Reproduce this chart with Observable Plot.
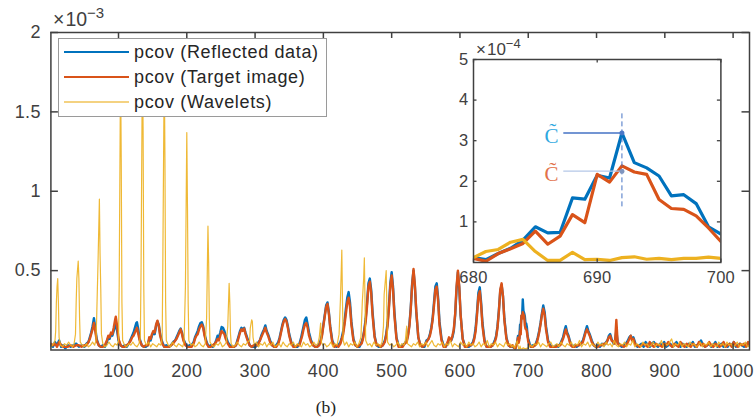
<!DOCTYPE html>
<html><head><meta charset="utf-8">
<script src="https://cdn.jsdelivr.net/npm/d3@7"></script>
<script src="https://cdn.jsdelivr.net/npm/@observablehq/plot@0.6"></script>
<style>
body{margin:0;background:#fff;}
#wrap{position:relative;width:755px;height:419px;overflow:hidden;background:#fff;}
#wrap > *{position:absolute;}
</style></head><body><div id="wrap"></div>
<script>
// ---------- tick labels / categories ----------
const xTicks = [100,200,300,400,500,600,700,800,900,1000];
const yTicks = [0.5,1,1.5,2];
const insetXTicks = [680,690,700];
const insetYTicks = [1,2,3,4,5];
const seriesNames = ["pcov (Reflected data)","pcov (Target image)","pcov (Wavelets)"];
const seriesColors = ["#0072BD","#D95319","#EDB120"];
const captionText = "(b)";

// ---------- inset values (x 1e-4) ----------
const insetX = [680,681,682,683,684,685,686,687,688,689,690,691,692,693,694,695,696,697,698,699,700];
const insetBlue = [0.12,0.07,0.22,0.35,0.55,0.88,0.73,0.74,1.59,1.56,2.15,2.08,3.19,2.46,2.33,2.13,1.64,1.67,1.45,0.88,0.70];
const insetRed = [0.10,0.03,0.22,0.34,0.47,0.77,0.45,0.65,1.18,0.98,2.17,1.98,2.38,2.23,2.17,1.55,1.33,1.31,1.15,0.85,0.52];
const insetYellow = [0.12,0.27,0.32,0.50,0.57,0.27,0.05,0.05,0.25,0.07,0.08,0.05,0.12,0.14,0.08,0.10,0.07,0.10,0.10,0.13,0.10];
// annotation (C~ markers) in inset units
const annoLabels = ["C\u0303","C\u0303"];
const annoY = [3.19, 2.25];
const annoTextColors = ["#2FA8E0","#E2714A"];
const annoLineColors = ["#4472C4","#B4C7E7"];
const annoDotColors = ["#4A78C8","#8095BE"];
const annoX = 692, annoLineStart = 687.3, annoTextX = 686.9;
const dashY = [1.37, 3.71];

// ---------- main values (x 1e-3), before the inset window ----------
const brXA = [
 1,4,7,10,13,16,19,22,26,30,34,38,42,46,50,
 53,56,58,60,62,64,66,68,71,74,77,
 80,83,85,87,89,91,93,95,96,98,100,103,106,109,
 112,115,118,120,122,124,126,127,129,131,134,137,140,
 143,145,147,149,151,153,155,157,159,161,164,167,170,
 174,177,180,183,185,187,189,191,193,195,198,201,204,
 207,210,212,214,216,218,220,222,224,226,229,232,235,
 238,241,243,245,247,249,251,253,255,257,260,263,266,
 269,272,274,276,278,280,282,284,286,289,292,295,298,
 301,303,305,307,309,311,313,315,317,319,322,325,328,
 331,334,336,338,340,342,344,346,348,350,353,356,359,
 362,365,367,369,371,373,375,377,379,382,385,388,
 391,394,396,398,400,402,404,406,408,410,413,416,419,
 422,425,427,429,431,433,435,437,439,441,444,447,450,
 453,456,458,460,462,464,466,468,470,472,475,478,481,
 484,487,490,492,494,496,498,500,502,504,507,510,513,
 516,519,522,524,526,528,530,532,534,536,539,542,545,
 548,551,554,556,558,560,562,564,566,568,570,573,576,579,
 582,584,587,589,591,593,595,597,599,601,604,607,610,
 613,616,619,621,623,625,627,629,631,633,636,639,642,
 645,648,651,653,655,657,659,661,663,665,668,671,674,677];
const blueA = [
 .03,.02,.05,.03,.06,.02,.03,.01,.03,.02,.03,.04,.02,.03,.02,
 .04,.05,.08,.11,.15,.20,.14,.07,.03,.02,.03,
 .02,.05,.08,.07,.10,.09,.12,.15,.17,.12,.06,.03,.02,.03,
 .02,.04,.07,.09,.11,.14,.17,.175,.13,.07,.03,.02,.02,
 .03,.07,.06,.09,.11,.10,.15,.18,.16,.10,.05,.02,.03,
 .02,.03,.05,.06,.08,.10,.12,.135,.11,.07,.04,.02,.03,
 .03,.05,.08,.10,.12,.15,.17,.175,.15,.10,.05,.02,.03,
 .02,.04,.06,.09,.08,.11,.145,.14,.12,.09,.05,.03,.02,
 .02,.03,.06,.09,.12,.14,.13,.14,.11,.07,.03,.02,.02,
 .02,.03,.05,.06,.09,.11,.13,.155,.12,.10,.06,.03,.02,
 .03,.05,.08,.12,.16,.19,.205,.19,.15,.10,.05,.03,.02,
 .02,.04,.07,.11,.15,.19,.205,.16,.11,.06,.03,.02,
 .02,.04,.06,.10,.16,.22,.28,.30,.24,.15,.06,.03,.02,
 .03,.05,.08,.12,.18,.26,.33,.365,.30,.18,.07,.03,.02,
 .02,.05,.08,.13,.20,.30,.42,.45,.38,.24,.09,.03,.02,
 .02,.03,.06,.10,.17,.28,.42,.49,.40,.24,.08,.03,.02,
 .03,.04,.06,.10,.16,.27,.42,.50,.40,.24,.08,.03,.02,
 .02,.06,.07,.10,.14,.20,.30,.40,.42,.33,.18,.07,.03,.02,
 .04,.07,.06,.08,.12,.22,.38,.49,.39,.22,.07,.03,.02,
 .02,.03,.05,.08,.14,.24,.36,.395,.30,.17,.06,.02,.02,
 .02,.03,.06,.09,.15,.25,.37,.41,.34,.20,.08,.03,.02,.02];
const redA = [
 .04,.03,.04,.02,.05,.03,.02,.02,.02,.03,.02,.03,.03,.02,.03,
 .03,.05,.07,.10,.13,.17,.12,.06,.03,.02,.02,
 .03,.06,.09,.08,.11,.10,.14,.19,.21,.15,.07,.03,.02,.02,
 .03,.04,.06,.08,.09,.11,.13,.14,.10,.06,.03,.02,.03,
 .03,.08,.07,.10,.12,.11,.16,.185,.15,.09,.04,.02,.02,
 .02,.03,.04,.06,.07,.09,.11,.13,.10,.06,.03,.02,.02,
 .02,.04,.07,.09,.10,.13,.15,.16,.14,.09,.04,.02,.02,
 .03,.04,.05,.07,.06,.09,.12,.11,.10,.07,.04,.02,.02,
 .02,.03,.05,.08,.11,.13,.12,.135,.10,.06,.03,.02,.03,
 .03,.03,.04,.06,.08,.10,.12,.14,.11,.09,.05,.03,.02,
 .02,.04,.07,.11,.15,.18,.195,.18,.14,.09,.04,.02,.02,
 .03,.03,.06,.09,.13,.16,.17,.14,.09,.05,.03,.02,
 .02,.03,.05,.09,.15,.21,.27,.29,.23,.14,.05,.02,.03,
 .02,.04,.07,.10,.16,.23,.30,.33,.27,.16,.06,.03,.02,
 .03,.04,.07,.12,.18,.28,.40,.43,.36,.22,.08,.03,.03,
 .02,.03,.05,.09,.15,.26,.40,.47,.38,.22,.07,.02,.02,
 .02,.04,.05,.09,.15,.26,.41,.51,.41,.25,.08,.03,.02,
 .03,.05,.07,.09,.13,.19,.28,.38,.40,.31,.16,.06,.02,.02,
 .05,.08,.06,.09,.13,.23,.40,.50,.40,.22,.07,.02,.02,
 .03,.03,.04,.07,.12,.22,.34,.37,.28,.15,.05,.02,.02,
 .02,.03,.05,.08,.14,.24,.38,.42,.34,.19,.07,.03,.02,.03];

// ---------- main values (x 1e-3), after the inset window ----------
const brXB = [
 702,704,707,710,712,714,716,718,720,722,724,726,729,732,735,
 738,741,744,747,749,751,753,755,757,759,762,765,768,
 771,774,777,780,782,784,786,788,790,793,796,799,
 802,805,808,811,814,816,818,820,822,825,827,829,831,834,837,840,843,846,848,850,852,854,857,860,
 863,866,869,872,875,878,881,884,887,890,893,896,899,902,905,908,911,914,917,920,
 923,926,929,932,935,938,941,944,947,950,953,956,959,962,965,968,971,974,977,980,
 983,986,989,992,995,998,1001,1004,1007,1010,1013,1016,1019,1022,1024];
const blueB = [
 .04,.02,.03,.03,.05,.08,.12,.17,.23,.28,.24,.15,.06,.03,.02,
 .02,.03,.02,.04,.06,.08,.12,.15,.11,.09,.04,.02,.03,
 .02,.03,.04,.06,.09,.12,.15,.12,.10,.06,.03,.02,
 .03,.02,.04,.03,.05,.06,.09,.10,.07,.04,.05,.12,.05,.03,.02,.03,.04,.06,.08,.09,.07,.08,.04,.02,
 .03,.04,.02,.05,.03,.02,.04,.05,.03,.02,.04,.03,.05,.02,.03,.04,.02,.03,.05,.03,
 .02,.04,.03,.02,.04,.03,.05,.02,.03,.04,.06,.03,.02,.03,.04,.02,.03,.05,.02,.03,
 .04,.02,.03,.02,.04,.03,.05,.02,.03,.04,.03,.02,.04,.03,.03];
const redB = [
 .03,.02,.02,.03,.04,.07,.11,.16,.22,.26,.22,.13,.05,.02,.02,
 .02,.02,.03,.03,.05,.07,.10,.13,.10,.08,.03,.02,.02,
 .03,.03,.04,.05,.08,.11,.13,.11,.09,.05,.03,.02,
 .02,.03,.03,.04,.04,.06,.08,.09,.06,.05,.04,.19,.04,.03,.03,.02,.03,.05,.07,.09,.06,.07,.03,.03,
 .02,.03,.04,.03,.02,.05,.03,.02,.04,.03,.03,.02,.04,.03,.05,.03,.02,.04,.03,.02,
 .05,.03,.02,.04,.03,.02,.04,.03,.02,.05,.03,.04,.02,.03,.05,.03,.02,.04,.03,.02,
 .03,.05,.02,.03,.04,.02,.05,.03,.02,.04,.03,.04,.02,.05,.03];

// ---------- wavelet series (x, value x 1e-3), outside the inset window ----------
const waveletA = [
 [1,.02],[3,.03],[5,.04],[7,.06],[8,.12],[9,.30],[10,.40],[11,.45],[12,.30],[13,.08],[15,.03],[18,.02],[21,.04],[24,.03],[27,.05],[30,.03],[33,.02],[35,.04],
 [37,.10],[38,.30],[39,.45],[41,.56],[42,.45],[43,.20],[44,.05],[47,.03],[50,.02],[53,.04],[56,.02],[59,.03],[62,.05],[65,.03],
 [67,.06],[68,.20],[70,.55],[72,.95],[73,.60],[74,.39],[75,.10],[77,.04],[80,.02],[83,.03],[86,.05],[89,.03],[92,.02],[95,.04],[98,.03],
 [100,.06],[101,.40],[103,1.80],[104,1.20],[105,.30],[106,.06],[109,.03],[112,.02],[115,.04],[118,.03],[121,.05],[124,.03],[127,.02],[130,.04],
 [132,.08],[133,.50],[135,1.85],[136,1.40],[137,.40],[138,.06],[141,.03],[144,.05],[147,.02],[150,.04],[153,.03],[156,.02],[159,.04],[162,.03],
 [164,.08],[165,.60],[167,1.80],[168,1.20],[169,.30],[170,.06],[173,.03],[176,.02],[179,.05],[182,.03],[185,.02],[188,.04],[191,.03],[194,.02],
 [196,.05],[198,.40],[200,1.37],[201,.90],[202,.30],[203,.06],[206,.03],[209,.04],[212,.02],[215,.03],[218,.05],[221,.03],[224,.02],[227,.04],
 [229,.20],[231,.78],[232,.55],[233,.20],[234,.05],[237,.03],[240,.02],[243,.04],[246,.03],[249,.05],[252,.02],[255,.03],[258,.05],
 [260,.15],[262,.42],[263,.30],[264,.10],[265,.04],[268,.02],[271,.03],[274,.05],[277,.03],[280,.02],[283,.04],[286,.03],[289,.05],
 [292,.06],[293,.14],[295,.19],[296,.18],[297,.08],[299,.03],[302,.05],[305,.02],[308,.04],[311,.03],[314,.05],[317,.02],[320,.04],[323,.03],
 [326,.05],[329,.02],[332,.03],[335,.04],[338,.02],[341,.05],[344,.03],[347,.02],[350,.04],[353,.03],[356,.05],[359,.02],[362,.04],[365,.03],
 [368,.02],[371,.05],[374,.03],[377,.04],[380,.02],[383,.03],[386,.05],[389,.03],[392,.04],[394,.08],[396,.17],[397,.05],[399,.03],[402,.04],
 [405,.02],[408,.03],[411,.05],[414,.02],[417,.04],[420,.03],[423,.10],[425,.32],[427,.63],[428,.30],[429,.06],[431,.03],[434,.05],[437,.02],
 [440,.04],[443,.03],[446,.05],[449,.02],[452,.04],[455,.08],[457,.30],[459,.45],[460,.58],[461,.30],[462,.06],[465,.03],[468,.04],[471,.02],
 [474,.05],[477,.03],[480,.04],[483,.02],[486,.05],[488,.15],[489,.35],[491,.45],[492,.50],[493,.25],[494,.05],[497,.03],[500,.04],[503,.02],
 [506,.03],[509,.05],[512,.02],[515,.04],[518,.03],[520,.06],[522,.15],[523,.04],[526,.03],[529,.02],[532,.04],[535,.03],[538,.05],[541,.02],
 [544,.04],[547,.03],[550,.05],[553,.02],[556,.04],[559,.06],[562,.03],[565,.02],[568,.04],[571,.03],[574,.05],[577,.02],[580,.04],[583,.03],
 [586,.06],[589,.02],[592,.04],[595,.03],[598,.02],[601,.05],[604,.03],[607,.04],[610,.02],[613,.05],[616,.03],[619,.04],[622,.02],[625,.03],
 [628,.05],[631,.02],[634,.04],[637,.03],[640,.06],[643,.02],[646,.04],[649,.03],[652,.05],[655,.02],[658,.04],[661,.03],[664,.02],[667,.05],
 [670,.03],[673,.04],[676,.02],[678,.03]];
const waveletB = [
 [703,.03],[706,.02],[709,.04],[712,.03],[715,.05],[718,.02],[721,.04],[724,.03],[727,.02],[730,.04],[733,.05],[736,.02],[739,.03],[742,.04],
 [745,.02],[748,.05],[751,.03],[754,.02],[757,.04],[760,.03],[763,.05],[766,.02],[769,.04],[772,.03],[775,.06],[778,.02],[781,.04],[784,.03],
 [787,.05],[790,.02],[793,.04],[796,.03],[799,.02],[802,.05],[805,.03],[808,.04],[811,.02],[814,.05],[817,.03],[820,.04],[823,.02],[826,.06],
 [829,.03],[832,.02],[835,.04],[838,.03],[841,.05],[844,.02],[847,.04],[850,.03],[853,.06],[856,.02],[859,.04],[862,.03],[865,.02],[868,.05],
 [871,.03],[874,.04],[877,.02],[880,.03],[883,.05],[886,.02],[889,.04],[892,.03],[895,.06],[898,.02],[901,.04],[904,.03],[907,.05],[910,.07],
 [913,.02],[916,.04],[919,.03],[922,.05],[925,.02],[928,.04],[931,.03],[934,.02],[937,.05],[940,.03],[943,.04],[946,.02],[949,.03],[952,.05],
 [955,.02],[958,.04],[961,.03],[964,.05],[967,.02],[970,.04],[973,.03],[976,.02],[979,.05],[982,.03],[985,.04],[988,.02],[991,.05],[994,.03],
 [997,.04],[1000,.02],[1003,.03],[1006,.05],[1009,.02],[1012,.04],[1015,.03],[1018,.05],[1021,.02],[1024,.03]];

// ---------- build tables ----------
const toRows = (xs, vs) => xs.map((x,i)=>({x, v: vs[i]}));
const e4to3 = v => v/10; // inset is in 1e-4, main axis in 1e-3
const mainBlue = [...toRows(brXA, blueA), ...toRows(insetX, insetBlue.map(e4to3)), ...toRows(brXB, blueB)];
const mainRed = [...toRows(brXA, redA), ...toRows(insetX, insetRed.map(e4to3)), ...toRows(brXB, redB)];
const mainYellow = [...waveletA.map(([x,v])=>({x,v})), ...toRows(insetX, insetYellow.map(e4to3)), ...waveletB.map(([x,v])=>({x,v}))];

const AX = "#404040";
const FONT = "'Liberation Sans', Arial, Helvetica, sans-serif";
const wrap = document.getElementById("wrap");

// ---------- main plot ----------
const W=755, H=385, mL=50.4, mR=6, mT=32, mB=35.5;
const FW=W-mL-mR, FH=H-mT-mB;
const main = Plot.plot({
  width:W, height:H, marginLeft:mL, marginRight:mR, marginTop:mT, marginBottom:mB,
  x:{domain:[1,1024], label:null}, y:{domain:[0,2], label:null},
  style:{background:"white", color:AX, fontFamily:FONT, fontSize:"18px", letterSpacing:"0.4px", maxWidth:"none", overflow:"visible"},
  marks:[
    Plot.lineY(mainBlue,{x:"x", y:"v", stroke:seriesColors[0], strokeWidth:2.4, strokeLinejoin:"round", clip:true}),
    Plot.lineY(mainRed,{x:"x", y:"v", stroke:seriesColors[1], strokeWidth:2.4, strokeLinejoin:"round", clip:true}),
    Plot.lineY(mainYellow,{x:"x", y:"v", stroke:seriesColors[2], strokeWidth:1.2, strokeOpacity:0.9, strokeLinejoin:"round", clip:true}),
    Plot.frame({stroke:AX, strokeWidth:1.5}),
    Plot.tickY(yTicks,{y:d=>d, insetRight:FW-7.5, stroke:AX, strokeWidth:1.5}),
    Plot.tickY(yTicks,{y:d=>d, insetLeft:FW-7.5, stroke:AX, strokeWidth:1.5}),
    Plot.tickX(xTicks,{x:d=>d, insetTop:FH-6, stroke:AX, strokeWidth:1.5}),
    Plot.tickX(xTicks,{x:d=>d, insetBottom:FH-6, stroke:AX, strokeWidth:1.5}),
    Plot.axisX({ticks:xTicks, tickSize:0, tickPadding:14, tickFormat:d=>String(d), label:null}),
    Plot.axisY({ticks:yTicks, tickSize:0, tickPadding:10, tickFormat:d=>String(d), label:null})
  ]
});
main.style.left="0px"; main.style.top="0px";
wrap.appendChild(main);

// ---------- inset plot ----------
const iL=30, iR=10, iT=30, iB=30, iFW=247.4, iFH=203;
const inset = Plot.plot({
  width:iL+iFW+iR, height:iT+iFH+iB, marginLeft:iL, marginRight:iR, marginTop:iT, marginBottom:iB,
  x:{domain:[680,700], label:null}, y:{domain:[0,5], label:null},
  style:{background:"transparent", color:AX, fontFamily:FONT, fontSize:"16.5px", letterSpacing:"0.3px", maxWidth:"none", overflow:"visible"},
  marks:[
    Plot.frame({fill:"white", stroke:"none"}),
    Plot.lineY(toRows(insetX, insetBlue),{x:"x", y:"v", stroke:seriesColors[0], strokeWidth:3.2, strokeLinejoin:"round", clip:true}),
    Plot.lineY(toRows(insetX, insetRed),{x:"x", y:"v", stroke:seriesColors[1], strokeWidth:3.2, strokeLinejoin:"round", clip:true}),
    Plot.lineY(toRows(insetX, insetYellow),{x:"x", y:"v", stroke:seriesColors[2], strokeWidth:3.2, strokeLinejoin:"round", clip:true}),
    Plot.ruleX([annoX],{x:d=>d, y1:dashY[0], y2:dashY[1], stroke:"#4472C4", strokeWidth:1, strokeDasharray:"5,3"}),
    Plot.ruleY(annoY,{y:d=>d, x1:annoLineStart, x2:annoX, stroke:(d,i)=>annoLineColors[i], strokeWidth:1.3}),
    Plot.dot(annoY,{x:annoX, y:d=>d, r:2.5, fill:(d,i)=>annoDotColors[i], stroke:"none"}),
    Plot.text(annoY,{x:annoTextX, y:d=>d, text:(d,i)=>annoLabels[i], fill:(d,i)=>annoTextColors[i], textAnchor:"end", fontFamily:"'Liberation Serif', 'Times New Roman', serif", fontSize:21, dy:3}),
    Plot.frame({stroke:AX, strokeWidth:1.5}),
    Plot.tickY(insetYTicks,{y:d=>d, insetRight:iFW-3.5, stroke:AX, strokeWidth:1.3}),
    Plot.tickY(insetYTicks,{y:d=>d, insetLeft:iFW-3.5, stroke:AX, strokeWidth:1.3}),
    Plot.tickX(insetXTicks,{x:d=>d, insetTop:iFH-3.5, stroke:AX, strokeWidth:1.3}),
    Plot.tickX(insetXTicks,{x:d=>d, insetBottom:iFH-3.5, stroke:AX, strokeWidth:1.3}),
    Plot.axisX({ticks:insetXTicks, tickSize:0, tickPadding:9, tickFormat:d=>String(d), label:null}),
    Plot.axisY({ticks:insetYTicks, tickSize:0, tickPadding:5, tickFormat:d=>String(d), label:null})
  ]
});
inset.style.left=(473.3-iL)+"px"; inset.style.top=(59.3-iT)+"px";
wrap.appendChild(inset);

// ---------- overlay: exponent labels, legend, caption ----------
const ov = d3.create("svg").attr("width",755).attr("height",419)
  .style("left","0px").style("top","0px").style("overflow","visible")
  .attr("font-family", FONT);
function expo(x, y, base, exp, fs, efs, dyE){
  const t = ov.append("text").attr("x",x).attr("y",y).attr("fill",AX).attr("font-size",fs);
  t.append("tspan").attr("font-weight",300).text("\u00D7");
  t.append("tspan").attr("dx",1).text(base);
  t.append("tspan").attr("dy",-dyE).attr("font-size",efs).text(exp);
}
expo(53, 26, "10", "\u22123", 19.5, 15, 8.5);
expo(476, 54.5, "10", "\u22124", 17, 13, 6.5);

// legend
const lg = ov.append("g");
lg.append("rect").attr("x",58.5).attr("y",38.5).attr("width",268).attr("height",78)
  .attr("fill","white").attr("stroke","#9a9a9a").attr("stroke-width",1);
seriesNames.forEach((name,i)=>{
  const cy = 52 + i*25;
  lg.append("line").attr("x1",64).attr("x2",129).attr("y1",cy).attr("y2",cy)
    .attr("stroke",seriesColors[i]).attr("stroke-width", i<2 ? 2.2 : 1.3).attr("opacity", i<2?1:0.75);
  lg.append("text").attr("x",134).attr("y",cy+6.3).attr("fill","#262626")
    .attr("font-size",18).attr("letter-spacing","0.65px").text(name);
});

// caption
ov.append("text").attr("x",326).attr("y",412.5).attr("text-anchor","middle")
  .attr("font-family","'Liberation Serif', 'Times New Roman', serif").attr("font-size",17.5)
  .attr("fill","#222").text(captionText);

wrap.appendChild(ov.node());
</script></body></html>
